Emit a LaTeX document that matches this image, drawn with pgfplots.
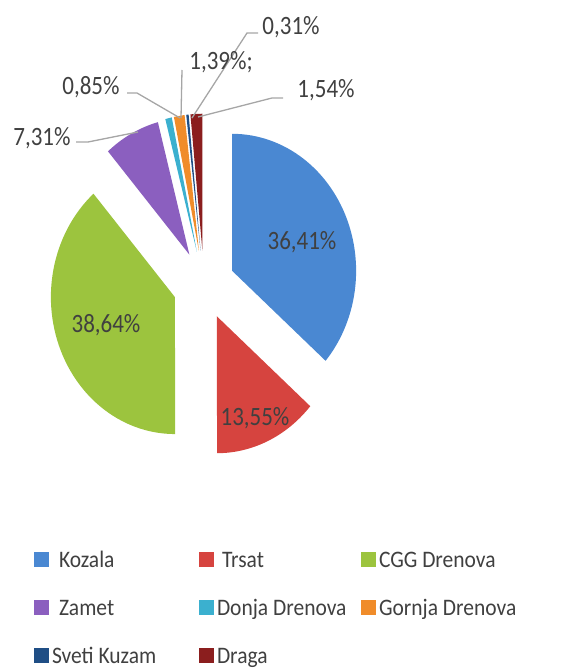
\documentclass[border=0pt]{standalone}
\usepackage{pgfplots}
\pgfplotsset{compat=1.18}
\usepackage{fontspec}
\setmainfont{Carlito}
\definecolor{cKoz}{HTML}{4A88D2}
\definecolor{cTrs}{HTML}{D6443F}
\definecolor{cCGG}{HTML}{9CC43E}
\definecolor{cZam}{HTML}{8B5FBF}
\definecolor{cDon}{HTML}{3BB0CF}
\definecolor{cGor}{HTML}{F08C2A}
\definecolor{cSve}{HTML}{1F4E85}
\definecolor{cDra}{HTML}{8B1E1E}
\definecolor{tgray}{HTML}{404040}
\definecolor{lgray}{HTML}{A6A6A6}
\newcommand{\lbl}[1]{\scalebox{1}[1.15]{#1}}
\newcommand{\lgl}[1]{\scalebox{1}[1.1]{#1}}
% slice: start percent, end percent, colour
\newcommand{\slice}[3]{%
  \addplot[fill=#3, draw=none, samples at={-1,0,1,...,60}, variable=\t]
  ({203.9 + 31*sin((#1+#2)*1.8) + (\t>=0)*124*sin((#1+(#2-#1)*\t/60)*3.6)},
   {285 - 34.3*cos((#1+#2)*1.8) - (\t>=0)*137*cos((#1+(#2-#1)*\t/60)*3.6)});
}
\begin{document}
\begin{tikzpicture}
\begin{axis}[
  xmin=0, xmax=579, ymin=0, ymax=671, y dir=reverse,
  width=579pt, height=671pt, scale only axis, hide axis, clip=false,
  legend columns=3, legend cell align=left,
  legend image code/.code={\fill[#1] (0pt,-7.5pt) rectangle (15pt,7.5pt);},
  legend style={draw=none, fill=none, at={(axis cs:34,551)}, anchor=north west,
    inner sep=0pt, outer sep=0pt, font=\fontsize{21.5}{24}\selectfont, text=tgray,
    row sep=32pt,
    /tikz/every odd column/.append style={column sep=3pt},
    nodes={inner sep=0pt, text height=16pt, text depth=0pt}},
]
\addplot[draw=none, forget plot] coordinates {(0,0) (579,671)};
% percentages: Kozala 36.41, Trsat 13.55, CGG Drenova 38.64, Zamet 7.31,
% Donja Drenova 0.85, Gornja Drenova 1.39, Sveti Kuzam 0.31, Draga 1.54
\slice{0}{36.41}{cKoz}
\addlegendentry{\makebox[147pt][l]{\lgl{\hspace{7pt}Kozala}}}
\slice{36.41}{49.96}{cTrs}
\addlegendentry{\makebox[144pt][l]{\lgl{\hspace{5pt}Trsat}}}
\slice{49.96}{88.60}{cCGG}
\addlegendentry{\lgl{CGG Drenova}}
\slice{88.60}{95.91}{cZam}
\addlegendentry{\makebox[147pt][l]{\lgl{\hspace{7pt}Zamet}}}
\slice{95.91}{96.76}{cDon}
\addlegendentry{\makebox[144pt][l]{\lgl{Donja Drenova}}}
\slice{96.76}{98.15}{cGor}
\addlegendentry{\lgl{Gornja Drenova}}
\slice{98.15}{98.46}{cSve}
\addlegendentry{\makebox[147pt][l]{\lgl{Sveti Kuzam}}}
\slice{98.46}{100}{cDra}
\addlegendentry{\makebox[144pt][l]{\lgl{Draga}}}
% leader lines
\addplot[lgray, line width=1.3pt, forget plot] coordinates {(76,142) (88,142) (138,132)};
\addplot[lgray, line width=1.3pt, forget plot] coordinates {(127,93) (137,93) (180,118)};
\addplot[lgray, line width=1.3pt, forget plot] coordinates {(182,70) (181,118)};
\addplot[lgray, line width=1.3pt, forget plot] coordinates {(258,33) (247,33) (192,118)};
\addplot[lgray, line width=1.3pt, forget plot] coordinates {(283,98) (272,98) (198,117)};
% labels
\begin{scope}[every node/.style={font=\fontsize{23}{26}\selectfont, text=tgray, inner sep=0pt}]
\node at (axis cs:302,242) {\lbl{36,41\%}};
\node at (axis cs:255,418) {\lbl{13,55\%}};
\node at (axis cs:106,325) {\lbl{38,64\%}};
\node at (axis cs:42,138) {\lbl{7,31\%}};
\node at (axis cs:91,87) {\lbl{0,85\%}};
\node at (axis cs:221,62) {\lbl{1,39\%;}};
\node at (axis cs:291,27) {\lbl{0,31\%}};
\node at (axis cs:326,90) {\lbl{1,54\%}};
\end{scope}
\end{axis}
\end{tikzpicture}
\end{document}
